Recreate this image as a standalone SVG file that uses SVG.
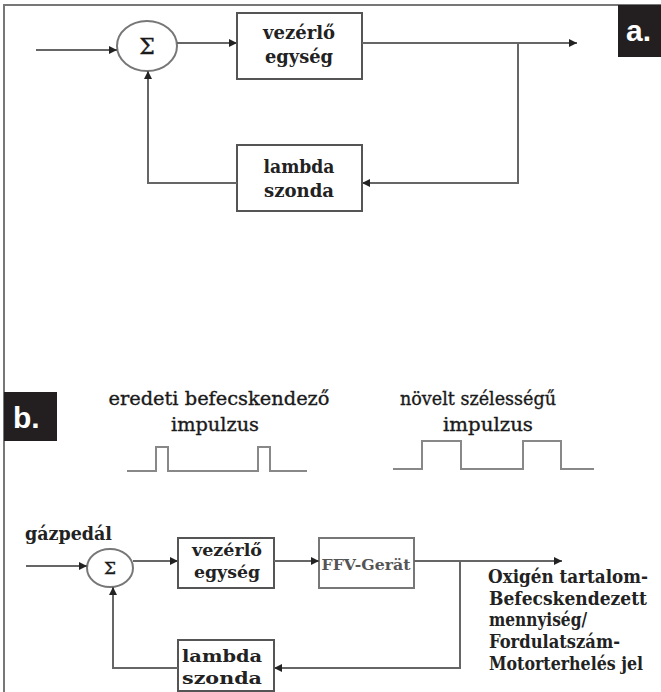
<svg xmlns="http://www.w3.org/2000/svg" width="661" height="692" viewBox="0 0 661 692">
<style>
.box{fill:#fff;stroke:#555;stroke-width:2}
.ln{fill:none;stroke:#666;stroke-width:2}
.pl{fill:none;stroke:#888;stroke-width:2}
.t{font-family:"DejaVu Serif","Liberation Serif",serif;fill:#1a1a1a;stroke:#1a1a1a;stroke-width:0.35}
.tb{font-family:"DejaVu Serif","Liberation Serif",serif;fill:#222;font-weight:bold}
.lab{font-family:"Liberation Sans",Arial,sans-serif;fill:#fff;font-size:30px;font-weight:bold}
</style>
<defs>
<marker id="ah" markerWidth="8" markerHeight="8" refX="8" refY="4" orient="auto" markerUnits="userSpaceOnUse">
<path d="M0,0 L8,4 L0,8 z" fill="#222"/>
</marker>
</defs>
<rect width="661" height="692" fill="#fff"/>
<path d="M4,692 V5 H661" fill="none" stroke="#777" stroke-width="2"/>

<g id="label-a"><rect x="618" y="5" width="43" height="52" fill="#231f20"/><text class="lab" x="626" y="41">a.</text></g>
<g id="label-b"><rect x="4" y="392" width="53" height="49" fill="#231f20"/><text class="lab" x="13" y="428">b.</text></g>

<g id="sum-a"><ellipse cx="147" cy="46" rx="30" ry="25" fill="#fff" stroke="#777" stroke-width="2"/><text class="t" x="147" y="54" font-size="22" text-anchor="middle">Σ</text></g>
<g id="ctrl-a"><rect class="box" x="237" y="13" width="125" height="66"/>
<text class="tb" x="299" y="39" font-size="18" text-anchor="middle" textLength="72" lengthAdjust="spacingAndGlyphs">vezérlő</text>
<text class="tb" x="299" y="63" font-size="18" text-anchor="middle" textLength="68" lengthAdjust="spacingAndGlyphs">egység</text></g>
<g id="lambda-a"><rect class="box" x="237" y="145" width="125" height="66"/>
<text class="tb" x="299" y="173" font-size="18" text-anchor="middle" textLength="71" lengthAdjust="spacingAndGlyphs">lambda</text>
<text class="tb" x="299" y="197" font-size="18" text-anchor="middle" textLength="70" lengthAdjust="spacingAndGlyphs">szonda</text></g>

<g id="pulse-orig"><text class="t" x="219" y="405" font-size="19" text-anchor="middle" textLength="221" lengthAdjust="spacingAndGlyphs">eredeti befecskendező</text>
<text class="t" x="215" y="431" font-size="19" text-anchor="middle" textLength="88" lengthAdjust="spacingAndGlyphs">impulzus</text>
<path class="pl" d="M127,471 H156 V447 H168 V471 H258 V447 H270 V471 H307"/></g>
<g id="pulse-wide"><text class="t" x="478" y="405" font-size="19" text-anchor="middle" textLength="156" lengthAdjust="spacingAndGlyphs">növelt szélességű</text>
<text class="t" x="488" y="431" font-size="19" text-anchor="middle" textLength="90" lengthAdjust="spacingAndGlyphs">impulzus</text>
<path class="pl" d="M393,469 H422 V441 H461 V469 H523 V441 H561 V469 H594"/></g>

<g id="gaz"><text class="tb" x="25" y="540" font-size="18" textLength="87" lengthAdjust="spacingAndGlyphs">gázpedál</text></g>
<g id="sum-b"><ellipse cx="110" cy="568" rx="23" ry="19" fill="#fff" stroke="#777" stroke-width="2"/><text class="t" x="110" y="574" font-size="17" text-anchor="middle">Σ</text></g>
<g id="ctrl-b"><rect class="box" x="178" y="538" width="96" height="50"/>
<text class="tb" x="227" y="556" font-size="17" text-anchor="middle" textLength="70" lengthAdjust="spacingAndGlyphs">vezérlő</text>
<text class="tb" x="227" y="578" font-size="17" text-anchor="middle" textLength="66" lengthAdjust="spacingAndGlyphs">egység</text></g>
<g id="ffv"><rect x="319" y="538" width="95" height="50" fill="#fff" stroke="#777" stroke-width="2"/>
<text class="tb" x="366" y="570" font-size="15" text-anchor="middle" style="fill:#555" textLength="89" lengthAdjust="spacingAndGlyphs">FFV-Gerät</text></g>
<g id="lambda-b"><rect class="box" x="178" y="640" width="96" height="51"/>
<text class="tb" x="222" y="662" font-size="17" text-anchor="middle" textLength="80" lengthAdjust="spacingAndGlyphs">lambda</text>
<text class="tb" x="222" y="684" font-size="17" text-anchor="middle" textLength="80" lengthAdjust="spacingAndGlyphs">szonda</text></g>
<g id="output-label" font-size="18">
<text class="tb" x="488" y="583" textLength="160" lengthAdjust="spacingAndGlyphs">Oxigén tartalom-</text>
<text class="tb" x="489" y="605" textLength="158" lengthAdjust="spacingAndGlyphs">Befecskendezett</text>
<text class="tb" x="489" y="626" textLength="98" lengthAdjust="spacingAndGlyphs">mennyiség/</text>
<text class="tb" x="489" y="648" textLength="131" lengthAdjust="spacingAndGlyphs">Fordulatszám-</text>
<text class="tb" x="489" y="670" textLength="154" lengthAdjust="spacingAndGlyphs">Motorterhelés jel</text>
</g>

<g id="connectors">
<path class="ln" d="M36,50 H117" marker-end="url(#ah)"/>
<path class="ln" d="M177,43 H237" marker-end="url(#ah)"/>
<path class="ln" d="M362,43 H577" marker-end="url(#ah)"/>
<path class="ln" d="M518,43 V183 H362" marker-end="url(#ah)"/>
<path class="ln" d="M237,183 H148 V71" marker-end="url(#ah)"/>
<path class="ln" d="M26,566 H87" marker-end="url(#ah)"/>
<path class="ln" d="M133,561 H178" marker-end="url(#ah)"/>
<path class="ln" d="M274,561 H319" marker-end="url(#ah)"/>
<path class="ln" d="M414,561 H562" marker-end="url(#ah)"/>
<path class="ln" d="M460,561 V668 H274" marker-end="url(#ah)"/>
<path class="ln" d="M178,668 H113 V587" marker-end="url(#ah)"/>
</g>
</svg>
